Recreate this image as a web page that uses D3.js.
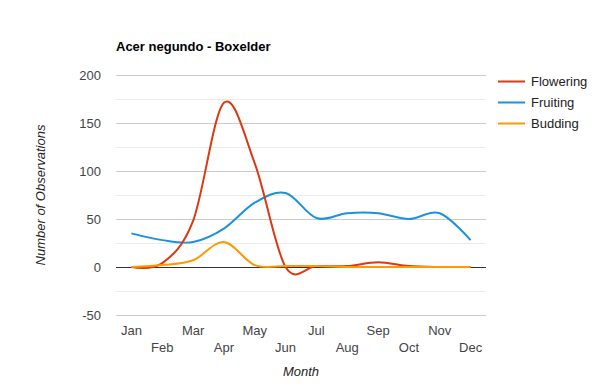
<!DOCTYPE html>
<html>
<head>
<meta charset="utf-8">
<script src="https://cdn.jsdelivr.net/npm/d3@7"></script>
<style>
  body { margin: 0; background: #fff; }
  svg { display: block; font-family: Arial, "Liberation Sans", sans-serif; }
</style>
</head>
<body>
<svg id="chart" width="600" height="390"></svg>
<script>
const months = ["Jan","Feb","Mar","Apr","May","Jun","Jul","Aug","Sep","Oct","Nov","Dec"];
const flowering = [0, 4, 48, 171, 108, 0, 1, 1, 5, 1, 0, 0];
const fruiting  = [35, 28, 26, 40, 67, 77, 51, 56, 56, 50, 56, 28];
const budding   = [0, 2, 7, 26, 2, 1, 1, 0, 0, 0, 0, 0];
const yTicks = [-50, 0, 50, 100, 150, 200];
const yMinor = [-25, 25, 75, 125, 175];

const series = [
  { name: "Fruiting", values: fruiting, color: "#1c91e0" },
  { name: "Flowering", values: flowering, color: "#dc3912" },
  { name: "Budding", values: budding, color: "#ff9900" }
];
const legendOrder = ["Flowering", "Fruiting", "Budding"];

const svg = d3.select("#chart");
const m = { left: 116, right: 486, top: 75, bottom: 315 };
const FONT = "Arial, 'Liberation Sans', sans-serif";

const x = d3.scaleBand().domain(months).range([m.left, m.right]).padding(0);
const xc = d => x(d) + x.bandwidth() / 2;
const y = d3.scaleLinear().domain([-50, 200]).range([m.bottom, m.top]);

// minor gridlines
svg.append("g").selectAll("line").data(yMinor).join("line")
  .attr("x1", m.left).attr("x2", m.right)
  .attr("y1", d => Math.round(y(d)) + 0.5).attr("y2", d => Math.round(y(d)) + 0.5)
  .attr("stroke", "#ebebeb").attr("stroke-width", 1);
// major gridlines
svg.append("g").selectAll("line").data(yTicks.filter(d => d !== 0)).join("line")
  .attr("x1", m.left).attr("x2", m.right)
  .attr("y1", d => Math.round(y(d)) + 0.5).attr("y2", d => Math.round(y(d)) + 0.5)
  .attr("stroke", "#cccccc").attr("stroke-width", 1);

// zero baseline
svg.append("line")
  .attr("x1", m.left).attr("x2", m.right)
  .attr("y1", Math.round(y(0)) + 0.5).attr("y2", Math.round(y(0)) + 0.5)
  .attr("stroke", "#333").attr("stroke-width", 1);

// y axis labels
const yAxis = d3.axisLeft(y).tickValues(yTicks).tickFormat(d => String(d)).tickSize(0).tickPadding(0);
const gy = svg.append("g").attr("transform", `translate(${m.left - 15},0)`).call(yAxis);
gy.select(".domain").remove();
gy.selectAll("text").attr("font-size", 13).attr("fill", "#444").attr("font-family", FONT);

// x axis labels (staggered)
const xAxis = d3.axisBottom(x).tickSize(0).tickPadding(0);
const gx = svg.append("g").attr("transform", `translate(0,${m.bottom})`).call(xAxis);
gx.select(".domain").remove();
gx.selectAll("text")
  .attr("font-size", 13).attr("fill", "#444")
  .attr("font-family", FONT)
  .attr("dy", null)
  .attr("y", (d, i) => i % 2 === 0 ? 20 : 37);

// lines
const line = d3.line().x((d, i) => xc(months[i])).y(d => y(d)).curve(d3.curveCardinal.tension(0));
svg.append("g").selectAll("path").data(series).join("path")
  .attr("d", s => line(s.values))
  .attr("fill", "none").attr("stroke", s => s.color).attr("stroke-width", 2)
  .attr("stroke-linejoin", "round");

// title
svg.append("text").attr("x", m.left).attr("y", 51)
  .attr("font-size", 13).attr("font-weight", "bold").attr("fill", "#000")
  .text("Acer negundo - Boxelder");

// axis titles
svg.append("text")
  .attr("transform", `translate(45,${(m.top + m.bottom) / 2}) rotate(-90)`)
  .attr("text-anchor", "middle").attr("font-size", 13).attr("font-style", "italic").attr("fill", "#222")
  .text("Number of Observations");
svg.append("text").attr("x", (m.left + m.right) / 2).attr("y", 376)
  .attr("text-anchor", "middle").attr("font-size", 13).attr("font-style", "italic").attr("fill", "#222")
  .text("Month");

// legend
const lg = svg.append("g").selectAll("g").data(legendOrder.map(n => series.find(s => s.name === n))).join("g")
  .attr("transform", (d, i) => `translate(498,${81 + i * 21})`);
lg.append("line").attr("x1", 0).attr("x2", 27).attr("y1", 0.5).attr("y2", 0.5)
  .attr("stroke", d => d.color).attr("stroke-width", 2);
lg.append("text").attr("x", 33).attr("y", 5).attr("font-size", 13).attr("fill", "#222")
  .text(d => d.name);
</script>
</body>
</html>
